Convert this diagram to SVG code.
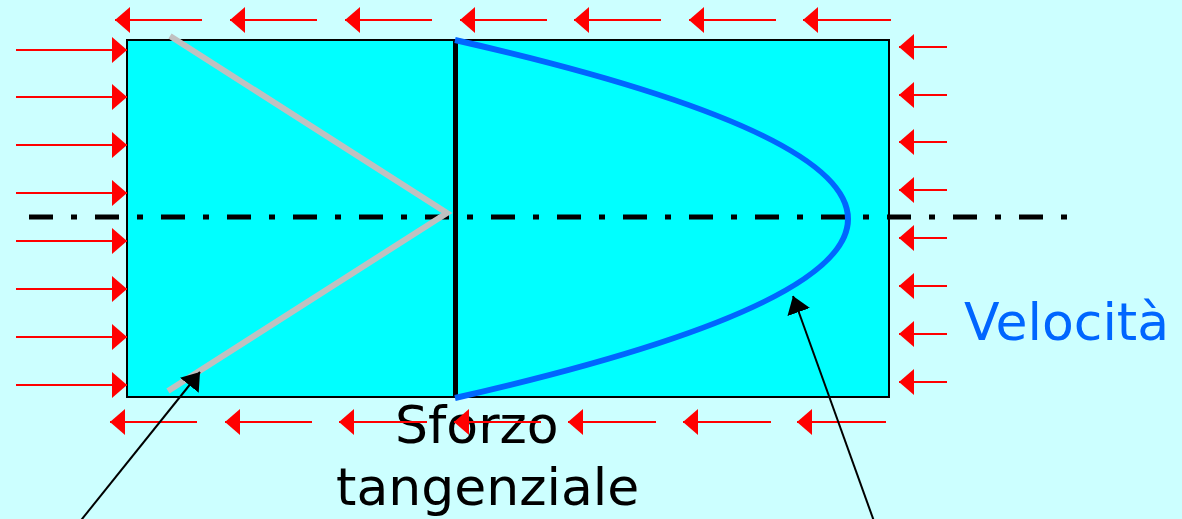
<svg xmlns="http://www.w3.org/2000/svg" width="1182" height="519" viewBox="0 0 1182 519">
<style>
.red{stroke:#FF0000;stroke-width:2;fill:none;marker-end:url(#rh)}
.ptr{stroke:#000;stroke-width:2;fill:none;marker-end:url(#bh)}
.lbl{font-family:"DejaVu Sans",Verdana,sans-serif;font-size:52px}
</style>
<defs>
<marker id="rh" viewBox="0 -13 15 26" refX="15" refY="0" markerWidth="15" markerHeight="26" markerUnits="userSpaceOnUse" orient="auto"><path d="M0,-13 L15,0 L0,13 z" fill="#FF0000"/></marker>
<marker id="bh" viewBox="0 -12 17 24" refX="17" refY="0" markerWidth="17" markerHeight="24" markerUnits="userSpaceOnUse" orient="auto"><path d="M0,-12 L17,0 L0,12 z" fill="#000"/></marker>
</defs>
<rect width="1182" height="519" fill="#CCFFFF"/>
<g id="pipe">
<rect x="127" y="40" width="762" height="357" fill="#00FFFF" stroke="#000" stroke-width="2"/>
</g>
<g id="axis">
<line x1="29" y1="217" x2="1067" y2="217" stroke="#000" stroke-width="5" stroke-dasharray="24 18 6 18"/>
</g>
<g id="stress-profile">
<polyline points="170,36 447,213 168,391" fill="none" stroke="#C0C0C0" stroke-width="6"/>
</g>
<g id="section">
<line x1="455.5" y1="40" x2="455.5" y2="397" stroke="#000" stroke-width="5"/>
</g>
<g id="velocity-profile">
<path d="M455,40 Q1241,219 455,398" fill="none" stroke="#0066FF" stroke-width="6"/>
</g>
<g id="label-sforzo">
<text class="lbl" x="395" y="443" fill="#000">Sforzo</text>
<text class="lbl" x="336" y="505" fill="#000">tangenziale</text>
</g>
<g id="label-velocita">
<text class="lbl" x="964" y="340" fill="#0066FF">Velocità</text>
</g>
<g id="connectors">
<g id="top-arrows">
<line class="red" x1="202" y1="20" x2="115" y2="20"/>
<line class="red" x1="317" y1="20" x2="230" y2="20"/>
<line class="red" x1="432" y1="20" x2="345" y2="20"/>
<line class="red" x1="547" y1="20" x2="460" y2="20"/>
<line class="red" x1="661" y1="20" x2="574" y2="20"/>
<line class="red" x1="776" y1="20" x2="689" y2="20"/>
<line class="red" x1="891" y1="20" x2="803" y2="20"/>
</g>
<g id="left-arrows">
<line class="red" x1="16" y1="50" x2="127" y2="50"/>
<line class="red" x1="16" y1="97" x2="127" y2="97"/>
<line class="red" x1="16" y1="145" x2="127" y2="145"/>
<line class="red" x1="16" y1="193" x2="127" y2="193"/>
<line class="red" x1="16" y1="241" x2="127" y2="241"/>
<line class="red" x1="16" y1="289" x2="127" y2="289"/>
<line class="red" x1="16" y1="337" x2="127" y2="337"/>
<line class="red" x1="16" y1="385" x2="127" y2="385"/>
</g>
<g id="right-arrows">
<line class="red" x1="947" y1="47" x2="899" y2="47"/>
<line class="red" x1="947" y1="95" x2="899" y2="95"/>
<line class="red" x1="947" y1="142" x2="899" y2="142"/>
<line class="red" x1="947" y1="190" x2="899" y2="190"/>
<line class="red" x1="947" y1="238" x2="899" y2="238"/>
<line class="red" x1="947" y1="286" x2="899" y2="286"/>
<line class="red" x1="947" y1="334" x2="899" y2="334"/>
<line class="red" x1="947" y1="382" x2="899" y2="382"/>
</g>
<g id="bottom-arrows">
<line class="red" x1="197" y1="422" x2="110" y2="422"/>
<line class="red" x1="312" y1="422" x2="225" y2="422"/>
<line class="red" x1="427" y1="422" x2="339" y2="422"/>
<line class="red" x1="541" y1="422" x2="454" y2="422"/>
<line class="red" x1="656" y1="422" x2="568" y2="422"/>
<line class="red" x1="771" y1="422" x2="683" y2="422"/>
<line class="red" x1="886" y1="422" x2="797" y2="422"/>
</g>
<g id="pointers">
<line class="ptr" x1="78" y1="524" x2="200" y2="372"/>
<line class="ptr" x1="875" y1="524" x2="793" y2="296"/>
</g>
</g>
</svg>
